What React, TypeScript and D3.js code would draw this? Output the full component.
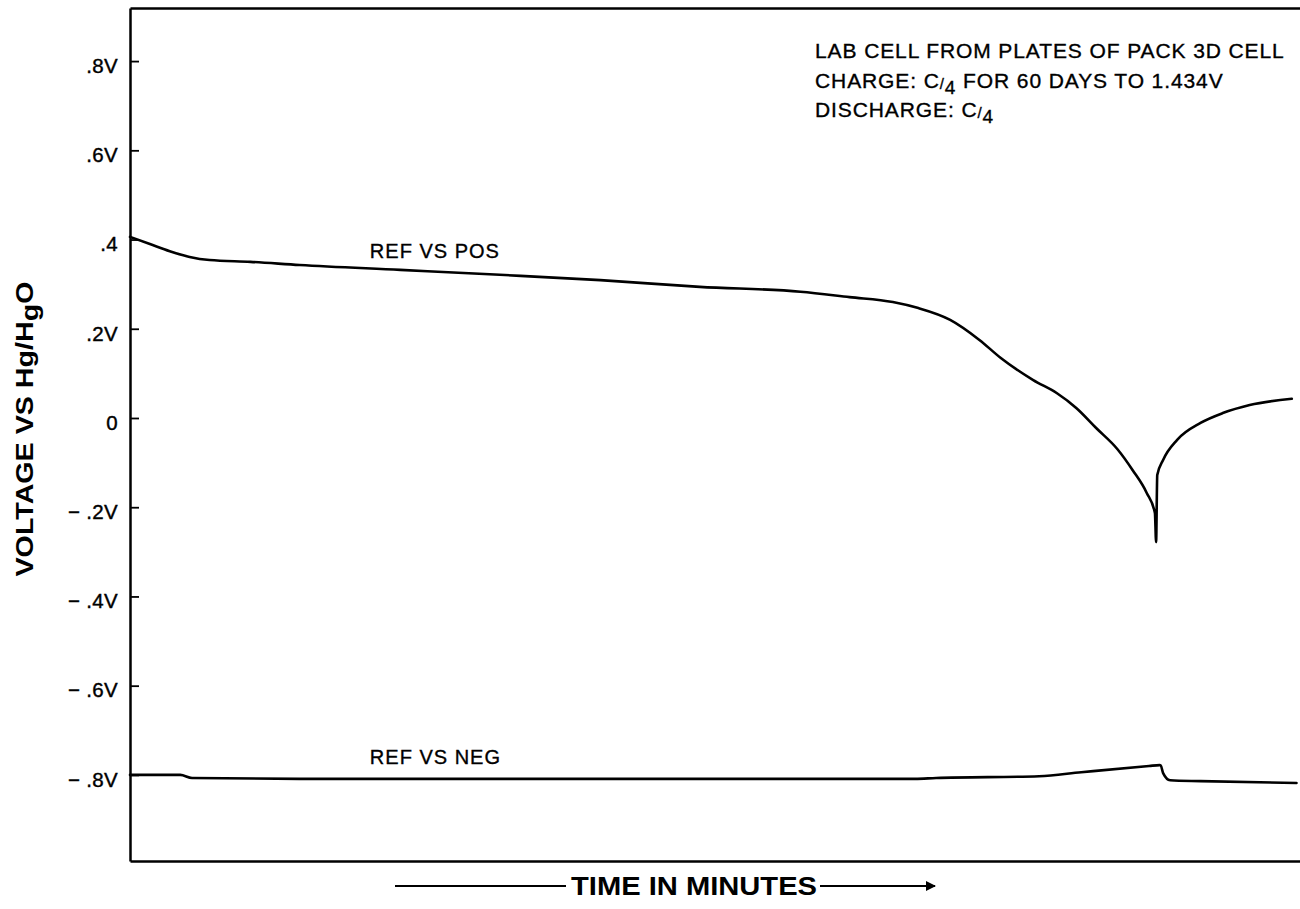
import React, { useRef, useEffect } from 'react';
import * as d3 from 'd3';

// time axis has no ticks in the original; values are in plot-percent units (0..100)
const posTime = [0, 1.7, 3.4, 5.1, 6.8, 10.3, 14.5, 23.1, 31.6, 40.2, 48.7, 57.3, 61.5, 65.2, 67.3, 70.1, 72.6, 74.4, 77.2, 79.2, 80.9, 82.6, 84.4, 85.7, 86.9, 87.6, 87.7, 87.8, 88.3, 89.5, 91.5, 93.4, 95.7, 99.3];
const posVolts = [0.406, 0.390, 0.374, 0.361, 0.354, 0.350, 0.343, 0.332, 0.321, 0.309, 0.294, 0.283, 0.271, 0.260, 0.247, 0.220, 0.175, 0.135, 0.085, 0.056, 0.022, -0.023, -0.070, -0.117, -0.168, -0.213, -0.278, -0.128, -0.094, -0.049, -0.011, 0.011, 0.029, 0.043];

const negTime = [0, 4.3, 5.3, 14.5, 31.6, 48.7, 67.1, 68.9, 77.7, 81.3, 87.1, 88.0, 88.1, 88.3, 88.9, 91.5, 99.7];
const negVolts = [-0.800, -0.800, -0.807, -0.809, -0.809, -0.809, -0.809, -0.807, -0.803, -0.794, -0.780, -0.778, -0.779, -0.796, -0.812, -0.814, -0.818];

const yTicks = [0.8, 0.6, 0.4, 0.2, 0, -0.2, -0.4, -0.6, -0.8];
const yTickLabels = ['.8V', '.6V', '.4', '.2V', '0', '\u2212 .2V', '\u2212 .4V', '\u2212 .6V', '\u2212 .8V'];

const noteLines = ['LAB CELL FROM PLATES OF PACK 3D CELL', 'CHARGE: C', 'DISCHARGE: C'];

type Pt = { t: number; v: number };

const App: React.FC = () => {
  const svgRef = useRef<SVGSVGElement>(null);

  useEffect(() => {
    const W = 1300;
    const H = 909;
    const margin = { top: 8, right: 0, bottom: 48, left: 130 };

    d3.select(svgRef.current).selectAll('*').remove();
    const svg = d3.select(svgRef.current).attr('width', W).attr('height', H);

    const x = d3.scaleLinear().domain([0, 100]).range([margin.left, W - margin.right]);
    const y = d3.scaleLinear().domain([-0.993, 0.919]).range([H - margin.bottom, margin.top]);

    const font = "'Liberation Sans', Arial, Helvetica, sans-serif";

    // left axis, ticks pointing into the plot
    const yAxis = d3.axisLeft(y)
      .tickValues(yTicks)
      .tickSizeInner(-9)
      .tickSizeOuter(0)
      .tickPadding(12)
      .tickFormat((d, i) => yTickLabels[i]);

    const gy = svg.append('g')
      .attr('transform', `translate(${margin.left},0)`)
      .call(yAxis);
    gy.select('.domain').attr('stroke', '#000').attr('stroke-width', 2.5);
    gy.selectAll('.tick line').attr('stroke', '#000').attr('stroke-width', 1.8);
    gy.selectAll('.tick text')
      .attr('fill', '#000')
      .attr('stroke', '#000')
      .attr('stroke-width', 0.4)
      .attr('font-family', font)
      .attr('font-size', 20.5)
      .attr('letter-spacing', 0.3)
      .attr('dy', '0.55em');

    // bottom axis, no ticks
    const gx = svg.append('g')
      .attr('transform', `translate(0,${y.range()[0]})`)
      .call(d3.axisBottom(x).tickValues([]).tickSizeOuter(0));
    gx.select('.domain').attr('stroke', '#000').attr('stroke-width', 2.5);

    // top frame line
    const gt = svg.append('g')
      .attr('transform', `translate(0,${y.range()[1]})`)
      .call(d3.axisTop(x).tickValues([]).tickSizeOuter(0));
    gt.select('.domain').attr('stroke', '#000').attr('stroke-width', 2.5);

    const line = d3.line<Pt>()
      .x(d => x(d.t))
      .y(d => y(d.v))
      .curve(d3.curveMonotoneX);

    const posData: Pt[] = posTime.map((t, i) => ({ t, v: posVolts[i] }));
    const negData: Pt[] = negTime.map((t, i) => ({ t, v: negVolts[i] }));

    [posData, negData].forEach(series => {
      svg.append('path')
        .datum(series)
        .attr('fill', 'none')
        .attr('stroke', '#000')
        .attr('stroke-width', 2.6)
        .attr('stroke-linejoin', 'round')
        .attr('stroke-linecap', 'round')
        .attr('d', line);
    });

    // series labels
    const lbl = svg.append('g')
      .attr('font-family', font).attr('font-size', 20).attr('letter-spacing', 1)
      .attr('stroke', '#000').attr('stroke-width', 0.35);
    lbl.append('text').attr('x', x(20.5)).attr('y', y(0.358)).text('REF VS POS');
    lbl.append('text').attr('x', x(20.5)).attr('y', y(-0.776)).text('REF VS NEG');

    // note block
    const note = svg.append('g')
      .attr('font-family', font)
      .attr('font-size', 21)
      .attr('letter-spacing', 0.9)
      .attr('stroke', '#000')
      .attr('stroke-width', 0.35);
    note.append('text').attr('x', 815).attr('y', 58).text(noteLines[0]);
    const l2 = note.append('text').attr('x', 815).attr('y', 88).text(noteLines[1]);
    l2.append('tspan').attr('font-size', 15).attr('dy', 1).text('/');
    l2.append('tspan').attr('font-size', 19).attr('dy', 5).text('4');
    l2.append('tspan').attr('dy', -6).text(' FOR 60 DAYS TO 1.434V');
    const l3 = note.append('text').attr('x', 815).attr('y', 117).text(noteLines[2]);
    l3.append('tspan').attr('font-size', 15).attr('dy', 1).text('/');
    l3.append('tspan').attr('font-size', 19).attr('dy', 5).text('4');

    // y axis title
    const yt = svg.append('text')
      .attr('transform', `translate(33,${429}) rotate(-90)`)
      .attr('text-anchor', 'middle')
      .attr('font-family', font)
      .attr('font-weight', 'bold')
      .attr('font-size', 23)
      .attr('textLength', 295)
      .attr('lengthAdjust', 'spacingAndGlyphs')
      .text('VOLTAGE VS Hg/H');
    yt.append('tspan').attr('dy', 5).text('g');
    yt.append('tspan').attr('dy', -5).text('O');

    // x axis title with arrow
    const defs = svg.append('defs');
    defs.append('marker')
      .attr('id', 'arrow')
      .attr('viewBox', '0 0 10 10')
      .attr('refX', 9).attr('refY', 5)
      .attr('markerWidth', 14).attr('markerHeight', 10)
      .attr('markerUnits', 'userSpaceOnUse')
      .attr('orient', 'auto')
      .append('path').attr('d', 'M0,0 L10,5 L0,10 Z').attr('fill', '#000');

    const ty = 886;
    svg.append('line')
      .attr('x1', 395).attr('x2', 566).attr('y1', ty).attr('y2', ty)
      .attr('stroke', '#000').attr('stroke-width', 2);
    svg.append('line')
      .attr('x1', 820).attr('x2', 935).attr('y1', ty).attr('y2', ty)
      .attr('stroke', '#000').attr('stroke-width', 2)
      .attr('marker-end', 'url(#arrow)');
    svg.append('text')
      .attr('x', 694).attr('y', ty + 9)
      .attr('text-anchor', 'middle')
      .attr('font-family', font)
      .attr('font-weight', 'bold')
      .attr('font-size', 25)
      .attr('textLength', 246)
      .attr('lengthAdjust', 'spacingAndGlyphs')
      .text('TIME IN MINUTES');
  }, []);

  return (
    <div style={{ position: 'absolute', left: 0, top: 0, background: '#fff' }}>
      <svg ref={svgRef} style={{ display: 'block' }} />
    </div>
  );
};

export default App;
